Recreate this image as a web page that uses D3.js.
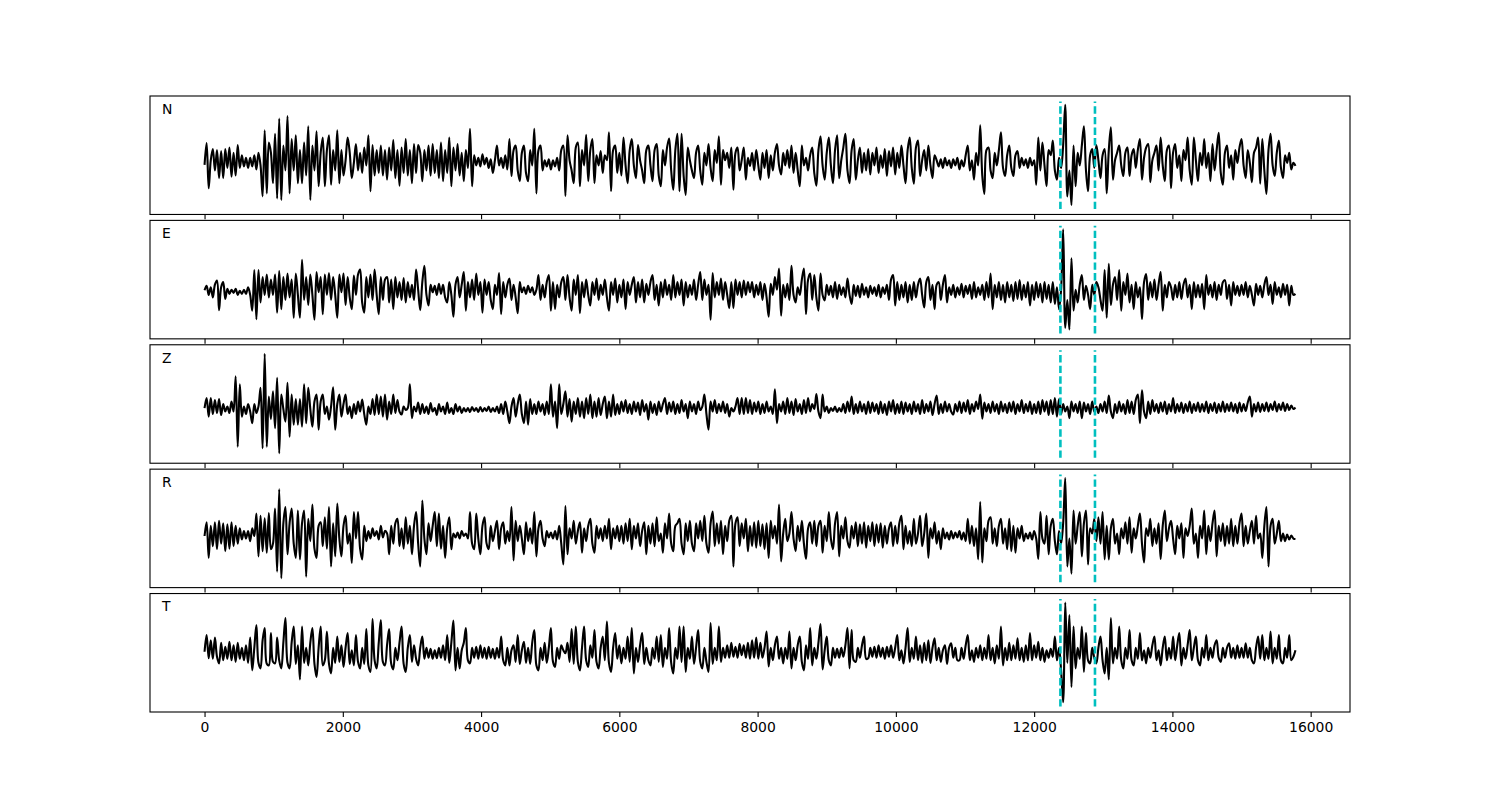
<!DOCTYPE html>
<html><head><meta charset="utf-8">
<script src="https://cdn.jsdelivr.net/npm/d3@7/dist/d3.min.js"></script>
<style>body{margin:0;background:#fff}svg{display:block}</style>
</head><body><svg id="chart" width="1500" height="800"></svg>
<script>
const channels = ["N", "E", "Z", "R", "T"];
const sampleStep = 30;
const pickTimes = [12380, 12880];
const xTicks = [0, 2000, 4000, 6000, 8000, 10000, 12000, 14000, 16000];

const N = [
-19,24,-65,-10,12,-30,10,-45,8,-45,12,-25,15,-42,5,-40,20,-25,0,-22,
-5,-25,-5,-22,0,-28,5,-20,-81,49,-75,25,5,-55,42,-85,72,-88,19,-30,
77,-75,32,-30,39,-55,10,-55,25,-40,57,-88,19,-30,47,-61,5,35,-61,10,
39,-58,10,-30,49,-55,10,-40,-10,35,5,-45,-15,22,-30,5,-35,15,-20,39,
-71,20,-40,10,-35,19,-40,10,-48,15,-30,30,-45,10,-60,15,-35,32,-40,10,
-55,22,-35,20,5,-51,10,-30,19,-40,22,-35,10,-45,25,-51,10,-35,35,-61,
15,-30,22,-40,5,-51,10,-25,52,-61,0,-20,-5,-22,2,-18,-5,-25,-8,-35,
-10,19,-20,-5,-25,0,-28,32,-41,10,19,-30,-51,5,19,-35,-51,10,-20,52,
-75,10,19,-30,-10,-22,-8,-28,-10,-22,-5,-30,10,19,-80,39,-10,-30,-55,15,
25,-61,10,-20,40,-51,10,32,-55,0,-20,8,-35,0,-10,45,-71,10,19,-35,
5,-40,35,-20,-55,10,32,-20,-45,20,-10,-30,-55,10,19,-20,-51,10,22,-40,
-61,10,-20,15,33,-30,-68,10,42,-71,42,-40,-78,15,-10,-30,-45,5,19,-30,
-58,5,-20,22,-25,-51,10,-15,37,-58,10,-10,5,-25,15,-68,5,15,-30,-10,
15,-48,-5,-21,5,-30,10,-20,-48,5,-25,10,-45,0,-30,5,22,-20,-38,5,
-20,10,-25,19,-35,5,-30,-61,19,-20,-5,-30,0,15,-35,-60,10,37,-20,-48,
5,35,-20,-55,10,39,-45,-10,15,42,-30,-55,10,32,-48,-10,15,-35,5,-30,
12,-38,5,-20,15,-35,0,-25,12,-41,8,-22,15,-38,5,-25,19,-20,-55,10,
35,-25,-56,15,29,-41,-10,10,-30,19,-20,-45,0,-10,-22,-8,-25,-5,-20,-10,
-25,-8,-20,-5,-28,-10,-22,0,19,-30,-10,-48,5,-20,59,-40,-76,10,15,-30,
-45,5,-20,10,45,-25,-41,0,19,-25,-41,0,8,-25,-5,-20,-8,-25,-5,-20,
-10,-58,35,-30,25,-20,-61,10,0,29,-30,-48,-5,-25,20,99,-81,-30,-98,19,
-61,5,-20,19,57,-30,-71,0,12,-25,20,-10,-45,0,12,-75,10,55,-48,-10,
5,19,-20,-41,5,15,-41,0,12,-25,10,32,-48,-5,15,22,-53,-10,5,19,
-30,35,-20,-51,10,19,-65,5,22,-25,0,-51,10,-10,35,-30,-58,35,-10,-51,
5,-20,32,-25,5,-51,22,-30,10,44,-35,-58,5,19,-25,0,-48,10,-15,15,
32,-20,-45,10,-15,-53,5,15,35,-56,32,-30,-76,10,42,-20,-41,5,29,-25,
-45,0,-15,5,-28,-15,-21
];

const E = [
-21,-12,-30,-15,-35,-10,-2,-60,-15,-5,-38,-18,-28,-20,-26,-18,-30,-22,-28,-20,
-28,-15,-30,-61,19,-78,19,-45,5,-30,10,-35,0,-30,10,-65,17,-58,5,-40,
12,-35,0,-75,12,-30,-75,39,-40,5,-50,10,-30,-79,15,-25,5,-68,10,-30,
13,-40,5,-30,-75,10,-25,12,-50,5,-35,-58,8,-30,10,20,-45,-65,5,-35,
10,-40,20,-30,-68,5,-40,0,5,-45,0,-58,5,-35,-5,-40,3,-45,-5,-35,
-10,-40,20,-20,-60,-5,27,-30,-51,-10,-25,-12,-30,-8,-28,-10,-35,-45,-5,-30,
-73,-10,5,-35,-10,15,-61,-5,-35,0,-40,12,-30,-5,-65,0,-30,-5,-40,-58,
-10,-30,13,-68,-5,-35,-10,2,-40,-10,-35,-66,-5,-25,-15,-28,-12,-25,-15,-30,
-20,9,-40,-10,-35,-5,9,-61,-5,-58,-10,-35,-5,5,-40,9,-35,-61,0,-30,
9,-66,-5,-35,0,-30,-51,-5,-30,2,-40,-10,-30,0,-35,-61,-5,-30,2,-45,
-10,-35,0,-58,-5,-30,-10,5,-45,-5,-35,0,-45,-8,-30,-5,9,-40,-10,-51,
-5,-35,0,-30,-10,-40,9,-35,-5,-30,0,-51,-5,-35,-10,-30,0,-40,-10,15,
-40,0,-30,-10,-79,13,-35,-5,-30,2,-40,-5,-30,-56,-5,-56,0,-30,-5,-35,
-2,-30,-5,-25,-5,-35,-10,-30,-5,-40,-8,-35,-73,-8,-30,5,-20,22,-71,-10,
-35,-8,-40,27,-30,-45,-15,-30,0,22,-68,0,12,-40,9,-35,-61,12,-30,-41,
-10,-30,-12,-35,-5,-38,-10,-30,-15,-35,2,-30,-48,-10,-32,-12,-35,-8,-30,-15,
-35,-12,-28,-15,-32,-10,-35,-15,-28,-10,-40,0,9,-51,-5,-40,-10,-35,-5,-45,
-10,-40,-5,-35,-10,2,-30,-55,-5,5,-40,-10,-58,-10,-5,-40,-10,9,-45,-15,
-30,-10,-35,-15,-30,-8,-35,-12,-28,-10,-38,-5,-35,-15,-30,-10,-40,-5,-35,12,
-58,-10,-35,-5,-40,-10,-45,-5,-35,-10,-42,-5,-38,-1,-40,-10,-35,-5,-51,-10,
-40,-5,-35,-8,-45,-5,-38,-10,-45,-5,-48,-15,-58,-20,99,-95,-40,-98,42,-61,
-20,-45,-10,9,-40,-12,-30,-58,-10,-30,-5,-15,-40,-61,19,-75,31,-50,-10,5,
-40,19,-61,-5,-30,12,-45,-10,-58,-5,-35,-15,-78,-5,11,-40,-5,-35,0,-40,
-10,15,-61,-10,-35,-5,-15,-40,-10,-35,-5,-38,-10,2,-35,-10,-58,-5,-35,-10,
-35,-8,-58,9,-30,-10,-35,-5,-40,-10,-30,-5,-1,-38,-10,-51,-5,-30,-12,-32,
-10,-30,-5,-35,-12,-30,-51,-8,-30,-12,-35,-10,5,-30,-10,-48,-5,-30,-15,-35,
-8,-30,-10,-51,-12,-30,-28
];

const Z = [
-8,12,-25,12,-20,8,-18,10,-22,0,-15,-5,-18,5,-15,55,-85,39,-25,-5,
-20,0,-15,-38,0,-18,-5,32,-88,100,-85,15,-30,25,-48,52,-98,19,-10,-35,
42,-65,19,-41,10,-41,10,-45,39,-38,32,-10,-45,5,19,-51,5,19,-20,-5,
-31,-5,33,-51,0,19,-25,0,19,-20,-5,-28,0,-20,5,-15,9,-20,-41,-5,
-20,10,-22,19,-20,15,-25,19,-31,5,-20,19,-18,8,-15,-21,-5,-12,-8,39,
-28,-5,-15,3,-20,0,-18,-5,-20,2,-15,-8,-22,0,-15,-5,-20,3,-18,-8,
-20,0,-15,-5,-18,-8,-15,-8,-16,-6,-14,-8,-16,-6,-15,-8,-14,-5,-16,-8,
-15,-5,-18,0,-20,5,-15,-38,-5,12,-25,0,19,-20,-38,5,-41,10,-20,0,
-20,5,-15,0,-22,5,-20,39,-25,5,-48,39,-20,0,25,-25,10,-35,5,-20,
12,-25,5,-28,12,-20,19,-28,5,-25,12,-22,0,15,-28,5,-25,19,-22,0,
-20,5,-15,8,-18,0,-20,5,-15,3,-22,8,-15,0,-31,5,-18,0,-22,5,
-15,0,12,-20,3,-15,5,-20,0,-18,8,-15,0,-28,5,-15,0,-20,5,-12,
-5,19,-20,-51,5,-15,8,-18,0,-15,5,-18,0,-25,-8,-15,-5,12,-20,12,
-20,12,-18,8,-20,3,-15,5,-20,0,-18,5,-15,-5,-20,29,-38,0,-15,5,
-20,12,-18,5,-22,10,-15,0,-20,8,-18,12,-15,0,-10,20,-15,-28,19,-15,
-5,-18,-8,-14,-5,-16,-8,-15,0,-18,5,-15,15,-20,0,-18,5,-15,0,-20,
5,-18,3,-15,0,-20,5,-18,0,-22,5,-15,8,-20,0,-18,5,-20,3,-15,
0,-20,5,-15,0,-20,8,-18,0,-15,5,-22,0,17,-20,0,-18,5,-15,0,
-15,-21,0,-15,5,-18,3,-15,8,-20,0,-15,5,-10,19,-29,3,-15,0,-18,
5,-15,0,-20,5,-15,0,-18,3,-15,5,-20,0,-15,8,-18,0,-15,5,-20,
0,-18,5,-20,8,-15,5,-22,8,-20,12,-25,10,-20,0,-15,-5,-28,5,-15,
0,-18,5,-28,3,-15,0,-20,5,-15,-5,-18,0,-15,5,-18,17,-15,-28,0,
-18,5,-15,0,-20,8,-18,5,-20,8,19,-38,27,-15,-28,5,-20,8,-15,0,
-18,3,-15,5,-20,0,-15,12,-18,0,-15,3,-18,0,-15,5,-18,0,-14,3,
-16,0,-15,5,-18,0,-14,3,-18,0,-15,5,-16,0,-14,3,-15,0,-18,3,
-15,0,-14,3,15,-25,0,-15,3,-16,0,-14,3,-15,0,-12,5,-15,0,-12,
3,-14,0,-12,-3,-10,-7
];

const R = [
-15,12,-58,5,-35,12,-41,15,-30,10,-45,8,-40,12,-35,5,-30,0,-22,-5,
-20,-5,-25,0,-15,29,-55,25,-45,20,-48,30,-41,-30,39,-85,77,-98,10,42,
-51,10,39,-30,-58,35,-61,10,35,-95,19,-25,47,-40,-58,5,12,-35,22,-40,
42,-75,10,-55,49,-20,-55,5,25,-30,-10,-68,32,-20,32,-40,-61,5,-25,-5,
-20,0,-15,-5,-22,5,-18,-5,-10,-51,5,-30,10,19,-35,0,-40,22,-30,5,
-51,5,32,-30,-75,55,-20,-51,10,-25,5,32,-35,29,-40,5,-58,0,22,-41,
-10,-18,-8,-20,-5,-15,-10,-20,32,-30,-41,29,-20,-51,5,22,-30,-41,5,-25,
-5,15,-41,0,12,-30,-5,-25,42,-63,15,-25,5,-20,-51,12,-25,0,-30,32,
-55,0,15,-20,-35,-5,-18,-8,-20,-5,-22,5,-30,-71,44,-51,0,-20,15,-30,
-5,12,-48,0,-25,5,19,-30,-48,5,-20,0,-25,5,-20,19,-41,0,-20,5,
-25,5,-30,10,-25,19,-41,5,-20,10,-35,-5,12,-51,5,-30,10,-35,22,-25,
-10,-48,10,-20,29,-30,-45,5,10,19,-30,-51,10,-25,15,-30,-45,10,-20,15,
-25,25,-30,-48,10,33,-35,10,-30,15,-51,5,-25,15,25,-75,10,22,-35,10,
-20,19,-45,5,-35,12,-38,15,-35,8,-41,10,-58,15,-20,5,-30,47,-65,-10,
19,-25,-10,32,-20,-45,5,-25,15,-30,-60,0,12,-30,15,-35,5,15,-48,5,
-25,32,-20,-41,10,32,-55,5,-20,22,-25,-38,5,-20,12,-35,8,-30,12,-38,
5,-25,12,-35,8,-28,10,-38,5,-30,0,12,-35,5,-30,10,25,-41,5,-30,
-5,-35,19,-30,-10,25,-35,-10,29,-58,0,-20,12,-30,-5,-41,0,-20,-8,-22,
-5,-20,-8,-18,-5,-22,-8,-25,19,-30,5,-35,0,-61,52,-67,0,-25,15,22,
-30,0,-35,5,19,-30,0,-41,19,-45,5,-48,0,-20,5,-25,-10,-20,-8,-22,
-5,-20,-60,32,-20,-30,25,-51,5,19,-25,-51,-5,-30,10,99,-75,-20,-89,35,
-30,5,32,-55,10,35,-71,0,-10,19,-25,22,-30,32,-61,5,-61,0,19,-30,
-10,-51,0,-20,12,-30,22,-48,0,-20,5,29,-30,-67,0,-15,19,-35,0,-30,
10,-60,5,35,-25,0,15,-20,-51,5,-20,10,-58,0,-15,5,39,-30,-10,-58,
5,-20,35,-51,5,-25,10,35,-55,5,-25,10,-35,5,-30,19,-35,5,-30,10,
29,-35,5,-30,-5,15,-30,25,-20,-10,-58,5,42,-75,5,19,-30,-10,15,-25,
-10,-25,-12,-22,-14,-20,-21
];

const T = [
2,35,-11,25,-12,30,-8,-21,20,-15,12,-12,22,-15,15,-18,20,-12,10,-15,
15,-20,30,-35,10,55,-20,-31,25,49,-22,-25,39,-18,-21,30,-15,-31,20,69,
-20,-31,20,52,-22,15,-53,52,-20,10,-25,20,49,-22,-48,10,52,-25,-15,42,
-22,-41,10,-20,32,-18,15,-28,10,39,-22,5,-25,35,-18,-31,10,-22,47,-25,
-38,67,-15,-31,20,65,-18,-25,15,47,-22,-33,10,-15,20,52,-22,-38,10,35,
-18,15,-12,-25,10,32,-12,10,-10,8,-12,5,-11,10,-10,15,-15,35,-20,20,
64,-35,10,-31,5,20,49,-15,-21,10,-10,12,-12,15,-10,10,-12,12,-10,8,
-12,10,-10,32,-15,-25,10,-25,5,15,-18,35,-22,5,22,-20,10,-22,20,45,
-25,-35,10,-15,20,-20,10,49,-18,-28,10,-12,15,5,-1,20,-18,47,-22,52,
-18,-35,10,52,-15,-28,15,-10,45,-18,-31,10,32,-15,62,-20,-38,10,39,-12,
15,-21,10,-12,32,-18,49,-41,10,-18,15,39,-22,10,-15,-25,10,-12,32,-18,
35,-28,10,-12,49,-20,-41,10,-12,52,-18,52,-38,10,-12,32,-22,10,45,-18,
-31,10,-18,-38,59,-22,10,-15,52,-18,10,-10,15,-10,20,-8,12,-10,18,-5,
15,-10,20,-12,25,-10,30,-12,20,-10,10,42,-27,10,-15,15,32,-12,10,-21,
10,-12,42,-31,10,-15,15,32,-18,-35,15,-12,49,-25,10,-12,20,57,-33,5,
32,-15,-25,10,-10,8,-10,10,-8,15,49,-31,45,-15,-18,10,-10,15,32,-12,
-11,10,-8,12,-10,15,-8,10,-12,12,-8,15,-10,10,35,-15,5,-21,10,49,
-18,10,-12,32,-15,15,-20,20,-15,25,-20,10,29,-15,10,-18,5,15,-22,10,
19,-10,10,-15,-15,10,-12,15,35,-15,5,-18,10,-10,15,-15,10,-12,35,-15,
10,-21,15,-12,52,-25,10,-15,20,-15,15,-12,29,-15,10,-18,15,-15,39,-15,
15,-10,22,-15,10,-18,5,-10,8,-8,32,-15,10,-35,-98,100,-20,75,-68,52,
-31,10,-12,52,-38,39,-15,-21,10,-10,-21,10,32,-15,-41,10,-53,69,-21,10,
-12,52,-15,-31,10,-12,45,-15,-25,10,-12,39,-15,5,-21,10,-10,15,32,-15,
5,-25,10,32,-15,10,-12,32,-15,15,39,-25,10,-12,15,45,-15,10,32,-15,
-25,10,-10,35,-15,10,-10,15,25,-10,-18,10,-10,10,19,-10,10,-12,15,-10,
10,-10,19,-10,10,-15,-21,10,32,-12,35,-15,10,-12,42,-21,10,-12,35,-15,
-21,10,-10,35,-15,-8,5
];

const series = [N, E, Z, R, T];

const svg = d3.select("#chart");
const figL = 150, figR = 1350, figT = 96, figB = 712;
const nPanels = series.length;
const hspace = 0.05;
const ph = (figB - figT) / (nPanels + (nPanels - 1) * hspace);
const gap = ph * hspace;
const font = "DejaVu Sans, sans-serif";

const xMax = d3.max(series, s => (s.length - 1) * sampleStep);
const xPad = xMax * 0.05;
const x = d3.scaleLinear().domain([-xPad, xMax + xPad]).range([figL, figR]);

series.forEach((vals, k) => {
  const y0 = figT + k * (ph + gap);
  const A = 1.07 * d3.max(vals, v => Math.abs(v));
  const y = d3.scaleLinear().domain([-1.1 * A, 1.1 * A]).range([y0 + ph, y0]);
  const g = svg.append("g");

  const line = d3.line()
    .x((v, i) => x(i * sampleStep))
    .y(v => y(v))
    .curve(d3.curveCatmullRom.alpha(0.5));

  g.append("path")
    .datum(vals)
    .attr("d", line)
    .attr("fill", "none")
    .attr("stroke", "#000")
    .attr("stroke-width", 2.1)
    .attr("stroke-linejoin", "round");

  pickTimes.forEach(t => {
    g.append("line")
      .attr("x1", x(t)).attr("x2", x(t))
      .attr("y1", y(-A)).attr("y2", y(A))
      .attr("stroke", "#00bfbf")
      .attr("stroke-width", 2.6)
      .attr("stroke-dasharray", "7.4,3.2");
  });

  g.append("rect")
    .attr("x", figL).attr("y", y0)
    .attr("width", figR - figL).attr("height", ph)
    .attr("fill", "none").attr("stroke", "#000").attr("stroke-width", 1.1);

  const ax = d3.axisBottom(x).tickValues(xTicks).tickSize(4.9).tickPadding(4.9).tickSizeOuter(0);
  if (k < nPanels - 1) ax.tickFormat(() => "");
  else ax.tickFormat(d3.format("d"));
  const axg = svg.append("g").attr("transform", `translate(0,${y0 + ph})`).call(ax);
  axg.select(".domain").remove();
  axg.selectAll(".tick line").attr("stroke", "#000").attr("stroke-width", 1.1);
  axg.selectAll(".tick text").attr("font-family", font).attr("font-size", 13.9).attr("fill", "#000");

  svg.append("text")
    .attr("x", figL + 0.01 * (figR - figL))
    .attr("y", y0 + 0.15 * ph)
    .attr("font-family", font)
    .attr("font-size", 13.9)
    .attr("fill", "#000")
    .text(channels[k]);
});
</script>
</body></html>
